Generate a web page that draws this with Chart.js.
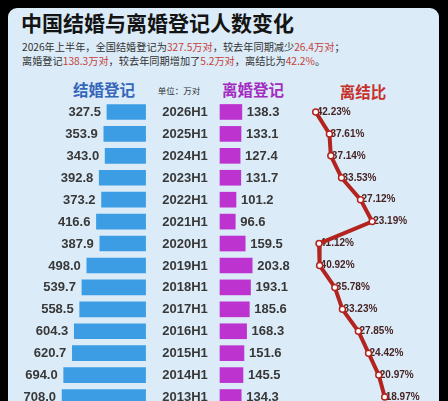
<!DOCTYPE html>
<html>
<head>
<meta charset="utf-8">
<script src="https://cdn.jsdelivr.net/npm/chart.js@4.4.1/dist/chart.umd.min.js"></script>
<style>
  html, body { margin: 0; padding: 0; background: #000; width: 448px; height: 401px; overflow: hidden; }
  body { position: relative; font-family: "Noto Sans CJK SC", "Liberation Sans", sans-serif; }
  .card { position: absolute; left: 8px; top: 8px; width: 431px; height: 420px; background: #dbecf8; border-radius: 9px; }
  .title { position: absolute; left: 21px; top: 8px; font-size: 21px; font-weight: 700; color: #141414; line-height: 28px; white-space: nowrap; }
  .sub { position: absolute; left: 22px; font-size: 10.2px; color: #333; line-height: 14px; white-space: nowrap; }
  .sub b { font-weight: 400; color: #c8413a; }
  .head { position: absolute; font-weight: 700; line-height: 20px; white-space: nowrap; transform: translateX(-50%); }
  #wrap { position: absolute; left: 0; top: 0; width: 448px; height: 420px; }
</style>
</head>
<body>
<div class="card"></div>
<div class="title">中国结婚与离婚登记人数变化</div>
<div class="sub" style="top:40px">2026年上半年，全国结婚登记为<b>327.5万对</b>，较去年同期减少<b>26.4万对</b>；</div>
<div class="sub" style="top:54px">离婚登记<b>138.3万对</b>，较去年同期增加了<b>5.2万对</b>，离结比为<b>42.2%</b>。</div>
<div class="head" style="left:104px; top:79px; font-size:15.5px; color:#3566b8">结婚登记</div>
<div class="head" style="left:179px; top:80px; font-size:8.5px; font-weight:400; color:#333">单位：万对</div>
<div class="head" style="left:253px; top:79px; font-size:15.5px; color:#a42bbf">离婚登记</div>
<div class="head" style="left:363px; top:81px; font-size:15.5px; color:#c8312b">离结比</div>
<div id="wrap"><canvas id="chart"></canvas></div>

<script>
// Data
const periods = ['2026H1', '2025H1', '2024H1', '2023H1', '2022H1', '2021H1', '2020H1',
                 '2019H1', '2018H1', '2017H1', '2016H1', '2015H1', '2014H1', '2013H1'];
const marriages = [327.5, 353.9, 343.0, 392.8, 373.2, 416.6, 387.9, 498.0, 539.7, 558.5, 604.3, 620.7, 694.0, 708.0];
const divorces = [138.3, 133.1, 127.4, 131.7, 101.2, 96.6, 159.5, 203.8, 193.1, 185.6, 168.3, 151.6, 145.5, 134.3];
const ratios = [42.23, 37.61, 37.14, 33.53, 27.12, 23.19, 41.12, 40.92, 35.78, 33.23, 27.85, 24.42, 20.97, 18.97];

const numFont = '700 13px "Liberation Sans", Arial, sans-serif';

// Draws the period names and the value labels next to each bar / point
const labelPlugin = {
    id: 'labels',
    beforeDatasetsDraw(chart) {
        const ctx = chart.ctx;
        const meta = chart.getDatasetMeta(2);
        ctx.save();
        ctx.font = '700 10px "Liberation Sans", Arial, sans-serif';
        ctx.fillStyle = '#472424';
        ctx.textAlign = 'left';
        ctx.textBaseline = 'middle';
        meta.data.forEach((pt, i) => {
            ctx.fillText(ratios[i].toFixed(2) + '%', pt.x + 1, pt.y);
        });
        ctx.restore();
    },
    afterDatasetsDraw(chart) {
        const ctx = chart.ctx;
        const y = chart.scales.y;
        ctx.save();
        ctx.font = numFont;
        ctx.textBaseline = 'middle';
        ctx.fillStyle = '#383838';

        // period names in the middle column
        ctx.textAlign = 'center';
        periods.forEach((p, i) => {
            ctx.fillText(p, 185, y.getPixelForValue(i) + 0.5);
        });

        // marriage values, left of the blue bars
        ctx.textAlign = 'right';
        chart.getDatasetMeta(0).data.forEach((bar, i) => {
            ctx.fillText(marriages[i].toFixed(1), bar.x - 6, bar.y + 0.5);
        });

        // divorce values, right of the purple bars
        ctx.textAlign = 'left';
        chart.getDatasetMeta(1).data.forEach((bar, i) => {
            ctx.fillText(divorces[i].toFixed(1), bar.x + 5, bar.y + 0.5);
        });
        ctx.restore();
    }
};

const ctx = document.getElementById('chart').getContext('2d');

new Chart(ctx, {
    type: 'bar',
    data: {
        labels: periods,
        datasets: [
            {
                label: '结婚登记',
                data: marriages,
                xAxisID: 'xm',
                backgroundColor: '#3d9de4',
                barThickness: 15,
                grouped: false,
                order: 2
            },
            {
                label: '离婚登记',
                data: divorces,
                xAxisID: 'xd',
                backgroundColor: '#bd33cf',
                barThickness: 15,
                grouped: false,
                order: 2
            },
            {
                type: 'line',
                label: '离结比',
                data: ratios,
                xAxisID: 'xr',
                borderColor: '#b3241e',
                borderWidth: 4,
                pointRadius: 3,
                pointBorderWidth: 1.5,
                pointBackgroundColor: '#ffffff',
                pointBorderColor: '#b3241e',
                clip: false,
                order: 1
            }
        ]
    },
    options: {
        indexAxis: 'y',
        responsive: true,
        maintainAspectRatio: false,
        animation: false,
        layout: {
            padding: { left: 8, right: 10, top: 101, bottom: 12 }
        },
        plugins: {
            legend: { display: false },
            tooltip: { enabled: false }
        },
        scales: {
            y: { type: 'category', display: false, offset: true },
            xm: { type: 'linear', axis: 'x', display: false, reverse: true, min: -2478, max: 1166 },
            xd: { type: 'linear', axis: 'x', display: false, min: -1342, max: 1380 },
            xr: { type: 'linear', axis: 'x', display: false, reverse: true, min: 1, max: 146 }
        }
    },
    plugins: [labelPlugin]
});
</script>
</body>
</html>
